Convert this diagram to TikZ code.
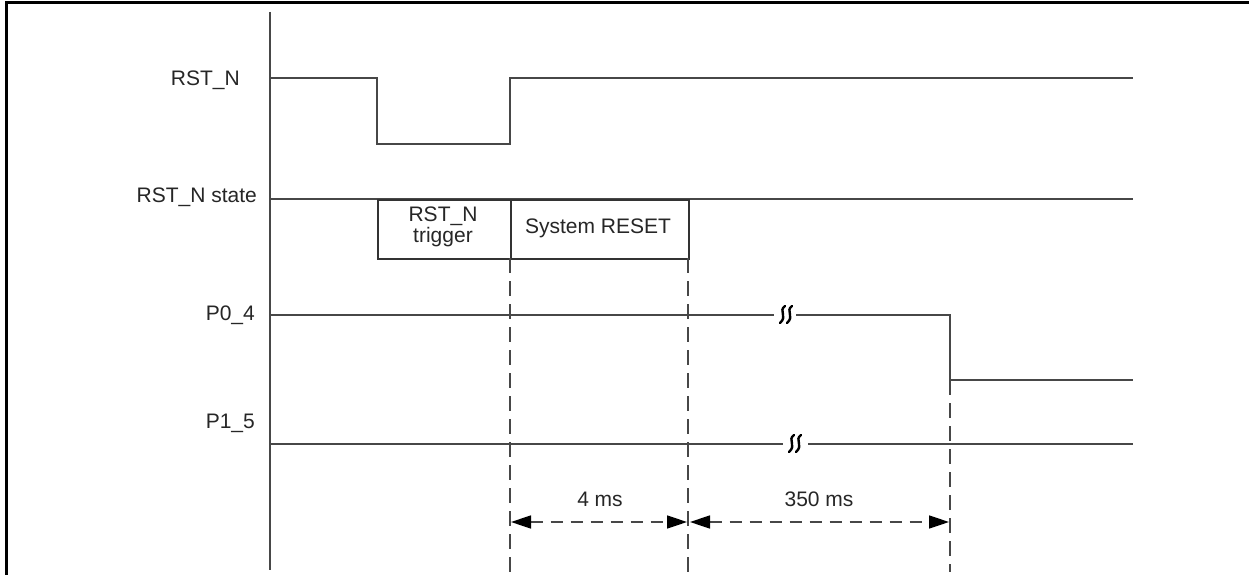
\documentclass[tikz,border=0pt]{standalone}
\usepackage{fontspec}
\setmainfont{Liberation Sans}
\usetikzlibrary{arrows.meta}
\begin{document}
\begin{tikzpicture}[x=1pt,y=-1pt,
  wave/.style={draw=black!72, line width=1.6pt},
  lbl/.style={font=\fontsize{21}{21}\selectfont, inner sep=0pt, text=black!85},
  vdash/.style={draw=black!72, line width=1.6pt, dash pattern=on 15pt off 8pt},
  dim/.style={draw=black!72, line width=1.6pt, dash pattern=on 12pt off 8pt,
    {Triangle[length=20pt,width=13pt,fill=black,color=black]}-{Triangle[length=20pt,width=13pt,fill=black,color=black]}},
  box/.style={draw=black!80, line width=1.6pt},
  brkmark/.pic={
    \draw[line width=2.4pt, line cap=round] (-1,-9) .. controls (-8,-4) and (2,1) .. (-6,8);
    \draw[line width=2.4pt, line cap=round] (6,-9) .. controls (-1,-4) and (9,1) .. (1,8);
  }]
\useasboundingbox (0,0) rectangle (1249,575);
% frame
\draw[line width=3pt] (6,575) -- (6,3) -- (1249,3);
% axis
\draw[wave] (270,12) -- (270,570);

% labels
\node[lbl, anchor=east] (lrst) at (240,80) {RST\_N};
\node[lbl, anchor=east] (lstate) at (257,197) {RST\_N state};
\node[lbl, anchor=east] (lp04) at (255,315) {P0\_4};
\node[lbl, anchor=east] (lp15) at (255,423) {P1\_5};

% RST_N waveform
\draw[wave] (270,78) -- (377,78) -- (377,144) -- (510,144) -- (510,78) -- (1133,78);

% RST_N state
\draw[wave] (270,199) -- (1133,199);
\node[box, minimum width=133pt, minimum height=59pt, anchor=north west, inner sep=0pt] (trig) at (377,199) {};
\node[box, minimum width=178pt, minimum height=59pt, anchor=north west, inner sep=0pt] (sysr) at (510,199) {};
\node[lbl, align=center] (ttrig) at (443,227) {RST\_N\\trigger};
\node[lbl] (tsys) at (598,228) {System RESET};

% P0_4
\draw[wave] (270,315) -- (774,315);
\draw[wave] (796,315) -- (950,315) -- (950,380) -- (1133,380);
\pic at (786,315) {brkmark};

% P1_5
\draw[wave] (270,444) -- (783,444);
\draw[wave] (808,444) -- (1133,444);
\pic at (795,444) {brkmark};

% dashed verticals
\coordinate (d1t) at (510,258);
\coordinate (d1b) at (510,572);
\coordinate (d2t) at (688,258);
\coordinate (d2b) at (688,572);
\coordinate (d3t) at (950,380);
\coordinate (d3b) at (950,572);
\draw[vdash] (d1t) -- (d1b);
\draw[vdash] (d2t) -- (d2b);
\draw[vdash] (d3t) -- (d3b);

% dimension arrows
\coordinate (a1l) at (511,522);
\coordinate (a1r) at (687,522);
\coordinate (a2l) at (690,522);
\coordinate (a2r) at (949,522);
\draw[dim] (a1l) -- (a1r);
\draw[dim] (a2l) -- (a2r);
\node[lbl] (t4) at (600,499) {4 ms};
\node[lbl] (t350) at (819,499) {350 ms};
\end{tikzpicture}
\end{document}
